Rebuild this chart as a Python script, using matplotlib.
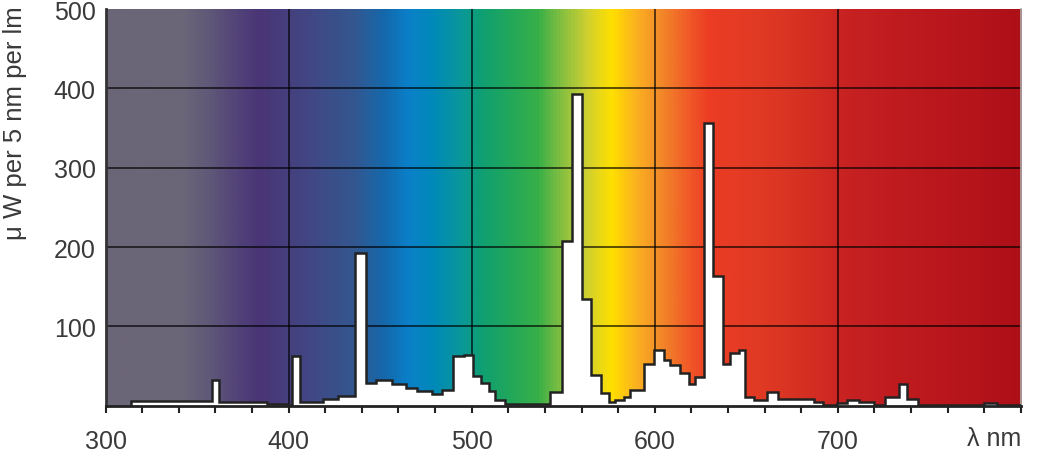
import numpy as np
import matplotlib
matplotlib.use("Agg")
import matplotlib.pyplot as plt
from matplotlib.colors import LinearSegmentedColormap, to_rgb
from matplotlib.ticker import MultipleLocator

# spectral power distribution, step edges in nm and heights in uW per 5 nm per lm
edges = [314, 358, 362, 388, 399.5, 402, 406, 419, 427, 436.5, 442.5, 447.5,
         456.5, 464, 470, 478.5, 484, 490, 496, 500.5, 505, 509.5, 512.5, 518,
         543, 549.5, 555, 560, 565, 570.5, 575, 578.5, 583, 586.5, 594, 599.5,
         605, 608.5, 614, 618.5, 622, 627, 632, 637, 641, 646, 649.5, 654,
         661.5, 667.5, 687, 692, 699.5, 705, 711.5, 719.5, 726, 733.5, 738,
         743.5, 780, 787, 800]
power = [5.5, 32, 5, 2, 1, 63, 4, 8, 12, 193, 28.5, 32,
         27, 22, 19, 14.5, 20, 62, 64, 38, 28.5, 18, 7,
         2, 17, 208, 393, 134, 39, 16, 4, 7.5, 10.5, 20, 52,
         70, 57, 51, 41, 27, 36, 356, 164, 52, 66, 70, 11,
         7.5, 17, 8.5, 4.5, 1, 3, 7, 4, 1, 10.5, 27,
         8, 0.5, 3, 1]

# background spectrum colour stops (nm, colour)
bg_nm = [300, 341, 357, 374, 383, 399, 415, 435, 452, 465, 479, 494, 506,
         525, 536, 550, 563, 576, 590, 601, 618, 630, 658, 694, 703, 730, 800]
bg_col = ["#6b6678", "#6b6678", "#5e5678", "#4f3f78", "#4a3575", "#463f7e",
          "#3f4a86", "#33578f", "#1469ad", "#0a80c8", "#008ab8", "#0a9898",
          "#10a070", "#28aa55", "#38b048", "#8cc040", "#d0d030", "#ffe000",
          "#fbb020", "#f39028", "#f05a28", "#ec3c24", "#e03a24", "#d02a22",
          "#c82222", "#c01c20", "#ae1018"]

xticks = [300, 400, 500, 600, 700]
yticks = [100, 200, 300, 400, 500]

plt.rcParams['font.family'] = ['Liberation Sans', 'DejaVu Sans']

fig = plt.figure(figsize=(10.48, 4.6), dpi=100)
ax = fig.add_axes([0.1007, 0.116, 0.8735, 0.862])

# gradient background
pos = [(n - 300) / 500 for n in bg_nm]
cmap = LinearSegmentedColormap.from_list("spec", list(zip(pos, [to_rgb(c) for c in bg_col])))
grad = np.linspace(0, 1, 1000).reshape(1, -1)
ax.imshow(grad, cmap=cmap, extent=[300, 800, 0, 500], aspect='auto', zorder=0,
          interpolation='bilinear')

# grid
for gx in [400, 500, 600, 700]:
    ax.axvline(gx, color='black', lw=1.2, alpha=0.75, zorder=1)
for gy in [100, 200, 300, 400]:
    ax.axhline(gy, color='black', lw=1.2, alpha=0.75, zorder=1)

# spectrum
ax.stairs(power, edges, baseline=0, fill=True, facecolor='white',
          edgecolor='none', zorder=2)
ax.stairs(power, edges, baseline=0, color='#222222', lw=1.8, zorder=3)

ax.set_xlim(300, 800)
ax.set_ylim(0, 500)
ax.set_xticks(xticks)
ax.set_yticks(yticks)
ax.xaxis.set_minor_locator(MultipleLocator(20))
ax.tick_params(axis='x', which='both', direction='out', length=5, width=1.5,
               color='#222222', labelsize=18, labelcolor='#3a3a3a', pad=12)
ax.tick_params(axis='y', length=0, labelsize=18, labelcolor='#3a3a3a', pad=7)

ax.spines['top'].set_visible(False)
ax.spines['right'].set_color('#aaaaaa')
ax.spines['right'].set_linewidth(1.2)
ax.spines['left'].set_color('#333333')
ax.spines['left'].set_linewidth(2)
ax.spines['bottom'].set_color('#222222')
ax.spines['bottom'].set_linewidth(2)

ax.text(800, -20 / 398 * 500, "λ nm", ha='right', va='top', fontsize=18,
        color='#3a3a3a')

fig.text(15 / 1048, 1 - 240 / 460, "μ W per 5 nm per lm", rotation=90,
         ha='center', va='bottom', fontsize=18.5, color='#3a3a3a')

fig.savefig("out.png", dpi=100)
